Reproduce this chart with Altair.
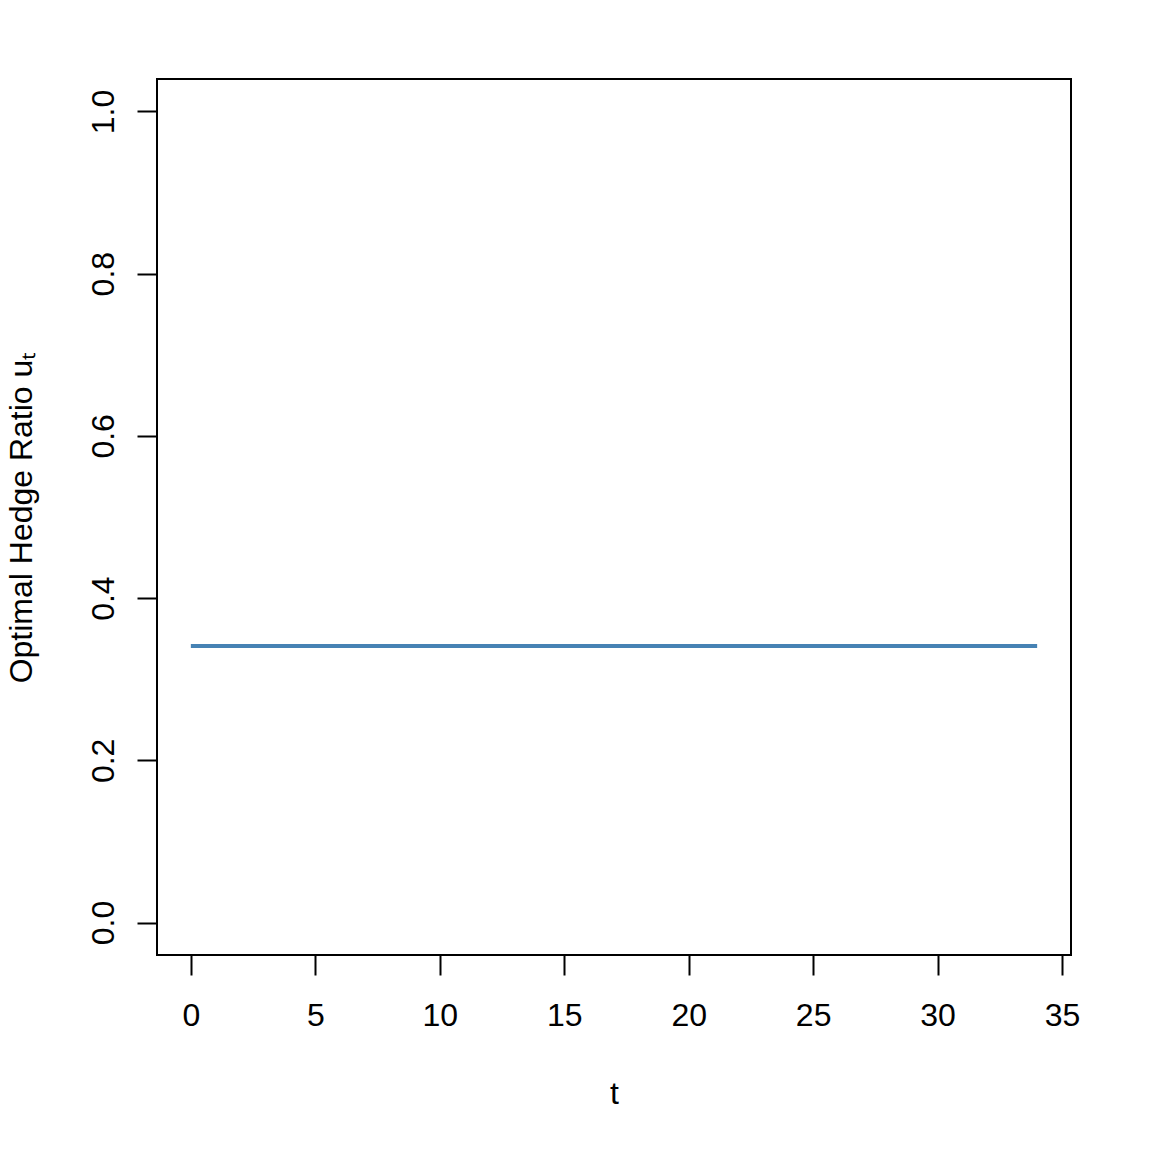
import altair as alt
import pandas as pd

t_values = [0, 1, 2, 3, 4, 5, 6, 7, 8, 9, 10, 11, 12, 13, 14, 15, 16, 17,
            18, 19, 20, 21, 22, 23, 24, 25, 26, 27, 28, 29, 30, 31, 32, 33, 34]
hedge_ratio = [0.341, 0.341, 0.341, 0.341, 0.341, 0.341, 0.341, 0.341, 0.341,
               0.341, 0.341, 0.341, 0.341, 0.341, 0.341, 0.341, 0.341, 0.341,
               0.341, 0.341, 0.341, 0.341, 0.341, 0.341, 0.341, 0.341, 0.341,
               0.341, 0.341, 0.341, 0.341, 0.341, 0.341, 0.341, 0.341]
x_ticks = [0, 5, 10, 15, 20, 25, 30, 35]
y_ticks = [0.0, 0.2, 0.4, 0.6, 0.8, 1.0]

df = pd.DataFrame({"t": t_values, "u": hedge_ratio})

FONT = "Liberation Sans"

x_axis = alt.Axis(
    values=x_ticks, title="t", grid=False, domain=False,
    tickSize=20, tickWidth=2, tickColor="black",
    labelFont=FONT, labelFontSize=32, labelColor="black",
    labelBaseline="alphabetic", labelPadding=50,
    labelFlush=False, labelOverlap=False,
    titleFont=FONT, titleFontSize=32, titleFontWeight="normal", titleColor="black",
    titleBaseline="alphabetic", titleY=148,
)
y_axis = alt.Axis(
    values=y_ticks, format=".1f", title="Optimal Hedge Ratio u\u209c", grid=False, domain=False,
    tickSize=20, tickWidth=2, tickColor="black",
    labelFont=FONT, labelFontSize=32, labelColor="black",
    labelAngle=270, labelAlign="center", labelBaseline="alphabetic", labelPadding=24,
    labelFlush=False, labelOverlap=False,
    titleFont=FONT, titleFontSize=32, titleFontWeight="normal", titleColor="black",
    titleAngle=270, titleAlign="center", titleBaseline="alphabetic",
    titleX=-126, titleY=438,
)

chart = alt.Chart(df).mark_line(color="#4682B4", strokeWidth=4).encode(
    x=alt.X("t:Q", scale=alt.Scale(domain=[-1.36, 35.36], nice=False, zero=False), axis=x_axis),
    y=alt.Y("u:Q", scale=alt.Scale(domain=[-0.04, 1.04], nice=False, zero=False), axis=y_axis),
).properties(
    width=914, height=876,
    autosize=alt.AutoSizeParams(type="none"),
    padding={"left": 149, "top": 71, "right": 73, "bottom": 189},
    background="white",
).configure_view(stroke="black", strokeWidth=2)

chart.save("out.html", embed_options={"renderer": "svg", "actions": False})
